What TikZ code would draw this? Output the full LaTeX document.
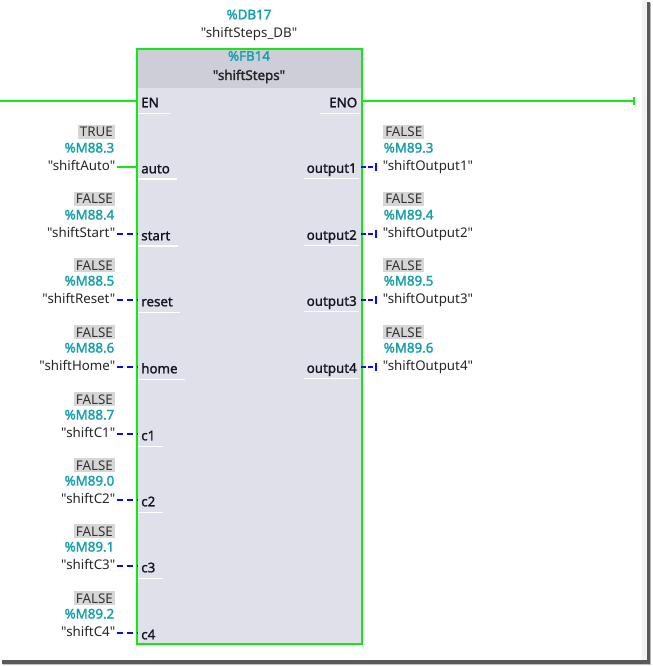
\documentclass[tikz,border=0pt]{standalone}
\usepackage{fontspec}
\newfontfamily\tiafont{Noto Sans}
\newfontfamily\pinfam[FakeBold=1.3]{Noto Sans}
\newfontfamily\tiabold[FakeBold=1.8]{Noto Sans}
\usetikzlibrary{arrows.meta,calc}
\definecolor{plcgreen}{RGB}{20,232,20}
\definecolor{plcblue}{RGB}{10,10,250}
\definecolor{tiateal}{RGB}{22,160,170}
\definecolor{fbfill}{RGB}{224,224,234}
\definecolor{fbhead}{RGB}{205,206,216}
\definecolor{valgray}{RGB}{214,214,214}
\definecolor{pintext}{RGB}{20,20,35}
\newcommand{\lblfont}{\fontsize{10}{12}\tiafont}
\newcommand{\addrfont}{\fontsize{10}{12}\tiabold}
\newcommand{\pinfont}{\fontsize{10}{12}\pinfam}
\tikzset{
  lbl/.style={font=\lblfont, text=black!85, inner sep=0.75pt},
  addr/.style={font=\addrfont, text=tiateal, inner sep=0.75pt},
  valbox/.style={fill=valgray, font=\lblfont, text=black!80, inner xsep=1.5pt, inner ysep=1.5pt, text depth=0pt},
  pinname/.style={font=\pinfont, text=pintext, inner sep=0.75pt},
  okline/.style={draw=plcgreen, line width=1.5pt},
  nokline/.style={draw=plcblue, line width=1.5pt, dash pattern=on 4.5pt off 3pt},
  outline/.style={draw=plcblue, line width=1.5pt, dash pattern=on 3.4pt off 1.9pt},
  pinsep/.style={draw=white, line width=0.9pt},
}
\begin{document}
\begin{tikzpicture}[x=0.75pt,y=-0.75pt]
\useasboundingbox (0,0) rectangle (652,666);
\fill[white] (0,0) rectangle (652,666);
% screenshot frame shadow
\fill[black!5] (642,0) rectangle (646.5,660);
\fill[black!65] (646.5,2) rectangle (649.5,663.5);
\fill[black!30] (649.5,3) rectangle (651,664);
\fill[black!65] (2,660) rectangle (649.5,663.5);
\fill[black!25] (3,663.5) rectangle (651,665);

% function block
\node[fill=fbfill, anchor=north west, minimum width=168pt, minimum height=445.5pt, inner sep=0pt] (fb) at (137,49) {};
\node[fill=fbhead, anchor=north west, minimum width=168pt, minimum height=29.25pt, inner sep=0pt] (hdr) at (137,49) {};
\draw[plcgreen, line width=1.5pt] (fb.north west) rectangle (fb.south east);

% instance / block titles
\node[addr, anchor=base] (db) at (249,19.3) {\%DB17};
\node[lbl, anchor=base] (dbname) at (249,37.3) {"shiftSteps\_DB"};
\node[addr, anchor=base] (fbno) at (249,60.7) {\%FB14};
\node[lbl, font=\addrfont, anchor=base] (fbname) at (249,80) {"shiftSteps"};

% EN / ENO
\coordinate (en-start) at (0,101);
\coordinate (in-en) at (137,101);
\coordinate (out-eno) at (361,101);
\coordinate (eno-end) at (635,101);
\node[pinname, anchor=base west] (p-en) at (140,107.3) {EN};
\node[pinname, anchor=base east] (p-eno) at (358.5,107.3) {ENO};
\draw[pinsep] ($(p-en.base west)+(-2,6)$) -- ($(p-en.base east)+(10,6)$);
\draw[pinsep] ($(p-eno.base west)+(-8,6)$) -- ($(p-eno.base east)+(1,6)$);
\draw[okline] (en-start) -- (in-en);
\draw[okline, -{Bar[width=6pt]}] (out-eno) -- (eno-end);

% inputs
\foreach \pn/\py/\pv/\pa/\pl/\ps in {
  auto/167/TRUE/M88.3/shiftAuto/okline,
  start/234/FALSE/M88.4/shiftStart/nokline,
  reset/300/FALSE/M88.5/shiftReset/nokline,
  home/367/FALSE/M88.6/shiftHome/nokline,
  c1/434/FALSE/M88.7/shiftC1/nokline,
  c2/500/FALSE/M89.0/shiftC2/nokline,
  c3/566/FALSE/M89.1/shiftC3/nokline,
  c4/633/FALSE/M89.2/shiftC4/nokline}{
  \coordinate (in-\pn) at (137,\py);
  \node[pinname, anchor=base west] (p-\pn) at (140,\py+6.3) {\pn};
  \draw[pinsep] ($(p-\pn.base west)+(-2,5.8)$) -- ($(p-\pn.base east)+(6,5.8)$);
  \node[valbox, anchor=base east] (v-\pn) at (115,\py-30) {\pv};
  \node[addr, anchor=base east] (a-\pn) at (115.5,\py-14.5) {\%\pa};
  \node[lbl, anchor=base east] (n-\pn) at (116.5,\py+3.6) {"\pl"};
  \draw[\ps] (n-\pn.east |- in-\pn) -- (in-\pn);
}

% outputs
\foreach \pn/\py/\pa/\pl in {
  output1/167/M89.3/shiftOutput1,
  output2/234/M89.4/shiftOutput2,
  output3/300/M89.5/shiftOutput3,
  output4/367/M89.6/shiftOutput4}{
  \coordinate (out-\pn) at (361,\py);
  \node[pinname, anchor=base east] (p-\pn) at (358,\py+5.8) {\pn};
  \draw[pinsep] ($(p-\pn.base west)+(-1,5.5)$) -- ($(p-\pn.base east)+(1,5.5)$);
  \node[valbox, anchor=base west] (v-\pn) at (383,\py-30) {FALSE};
  \node[addr, anchor=base west] (a-\pn) at (382.5,\py-14.5) {\%\pa};
  \node[lbl, anchor=base west] (n-\pn) at (381.5,\py+3.6) {"\pl"};
  \coordinate (t-\pn) at (377,\py);
  \draw[outline, -{Bar[width=6pt]}] (out-\pn) -- (t-\pn);
}
\end{tikzpicture}
\end{document}
